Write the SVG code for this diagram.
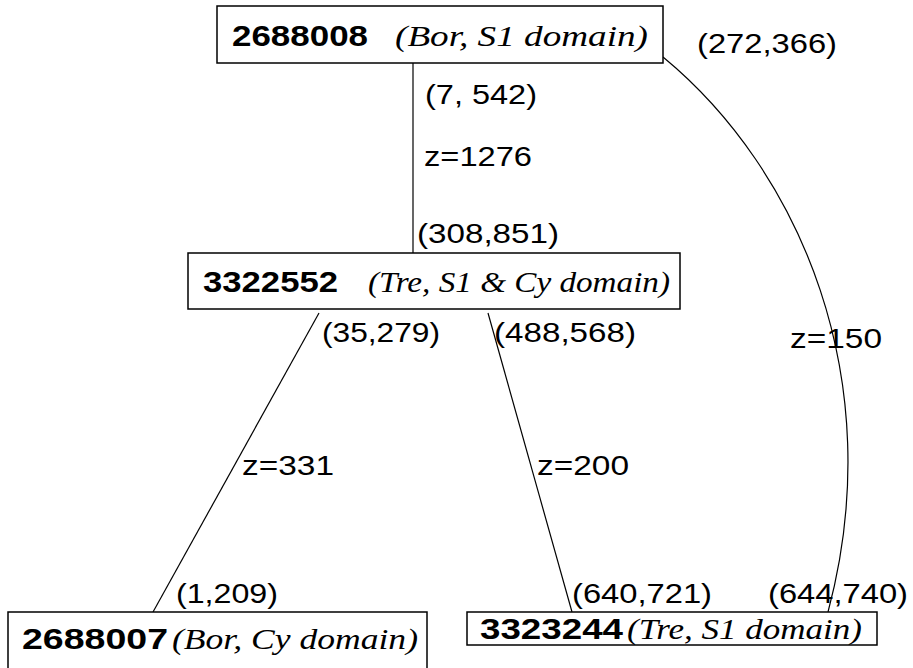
<svg xmlns="http://www.w3.org/2000/svg" width="913" height="668" viewBox="0 0 913 668">
<style>
.box{fill:#fff;stroke:#000;stroke-width:1.5}
.num{font-family:"Liberation Sans",Arial,sans-serif;font-weight:bold;font-size:29px;fill:#000}
.it{font-family:"Liberation Serif","Times New Roman",serif;font-style:italic;font-size:30px;fill:#000}
.lbl{font-family:"Liberation Sans",Arial,sans-serif;font-size:28px;fill:#000}
.edge{fill:none;stroke:#000;stroke-width:1.2}
</style>
<rect width="913" height="668" fill="#fff"/>
<g id="connectors">
<line class="edge" x1="413" y1="63" x2="413" y2="253"/>
<line class="edge" x1="319" y1="313" x2="153" y2="612"/>
<line class="edge" x1="488" y1="313" x2="572" y2="612"/>
<path class="edge" d="M663,57 C800,170 890,380 828,612"/>
<text class="lbl" x="697" y="53" textLength="140" lengthAdjust="spacingAndGlyphs">(272,366)</text>
<text class="lbl" x="425" y="104" textLength="112" lengthAdjust="spacingAndGlyphs">(7, 542)</text>
<text class="lbl" x="424" y="166" textLength="108" lengthAdjust="spacingAndGlyphs">z=1276</text>
<text class="lbl" x="417" y="243" textLength="142" lengthAdjust="spacingAndGlyphs">(308,851)</text>
<text class="lbl" x="322" y="342" textLength="118" lengthAdjust="spacingAndGlyphs">(35,279)</text>
<text class="lbl" x="494" y="342" textLength="142" lengthAdjust="spacingAndGlyphs">(488,568)</text>
<text class="lbl" x="790" y="348" textLength="92" lengthAdjust="spacingAndGlyphs">z=150</text>
<text class="lbl" x="242" y="475" textLength="92" lengthAdjust="spacingAndGlyphs">z=331</text>
<text class="lbl" x="537" y="475" textLength="92" lengthAdjust="spacingAndGlyphs">z=200</text>
<text class="lbl" x="176" y="603" textLength="102" lengthAdjust="spacingAndGlyphs">(1,209)</text>
<text class="lbl" x="572" y="603" textLength="140" lengthAdjust="spacingAndGlyphs">(640,721)</text>
<text class="lbl" x="768" y="603" textLength="140" lengthAdjust="spacingAndGlyphs">(644,740)</text>
</g>
<g id="n2688008">
<rect class="box" x="217" y="6" width="446" height="57"/>
<text class="num" x="232" y="46" textLength="136" lengthAdjust="spacingAndGlyphs">2688008</text>
<text class="it" x="395" y="46" textLength="253" lengthAdjust="spacingAndGlyphs">(Bor, S1 domain)</text>
</g>
<g id="n3322552">
<rect class="box" x="188" y="253" width="492" height="56"/>
<text class="num" x="203" y="292" textLength="135" lengthAdjust="spacingAndGlyphs">3322552</text>
<text class="it" x="368" y="292" textLength="302" lengthAdjust="spacingAndGlyphs">(Tre, S1 &amp; Cy domain)</text>
</g>
<g id="n2688007">
<rect class="box" x="8" y="612" width="419" height="70"/>
<text class="num" x="22" y="649" textLength="146" lengthAdjust="spacingAndGlyphs">2688007</text>
<text class="it" x="172" y="649" textLength="246" lengthAdjust="spacingAndGlyphs">(Bor, Cy domain)</text>
</g>
<g id="n3323244">
<rect class="box" x="467" y="612" width="410" height="33"/>
<text class="num" x="480" y="639" textLength="143" lengthAdjust="spacingAndGlyphs">3323244</text>
<text class="it" x="627" y="639" textLength="235" lengthAdjust="spacingAndGlyphs">(Tre, S1 domain)</text>
</g>
</svg>
